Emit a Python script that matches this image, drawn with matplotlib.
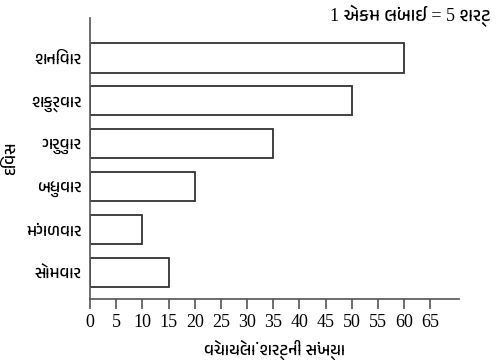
import matplotlib
matplotlib.use("Agg")
from matplotlib import pyplot as plt
from matplotlib import font_manager

days = ["સોમવાર", "મંગળવાર", "બુધવાર", "ગુરુવાર", "શુક્રવાર", "શનિવાર"]
shirts = [15, 10, 20, 35, 50, 60]
ticks = list(range(0, 70, 5))

names = sorted({f.name for f in font_manager.fontManager.ttflist})
guj = [n for n in names if "Gujarati" in n or "Lohit" in n or "Shruti" in n]
# serif for latin and digits, gujarati font for the rest
plt.rcParams['font.family'] = ["Liberation Serif"] + guj + ["DejaVu Serif"]

fig = plt.figure(figsize=(5.03, 3.6), dpi=100)
ax = fig.add_axes([0.179, 0.169, 0.7335, 0.781])
ax.barh(range(len(days)), shirts, height=0.68, color="white",
        edgecolor="#333333", linewidth=1.3)
ax.set_xlim(0, 70.5)
ax.set_ylim(-0.62, 5.93)
ax.set_xticks(ticks)
ax.set_yticks(range(len(days)))
ax.set_yticklabels(days)
ax.tick_params(axis="x", labelsize=13, length=7, width=1.2, color="#555555", pad=4)
ax.tick_params(axis="y", labelsize=12, length=0, pad=6)
for s in ["top", "right"]:
    ax.spines[s].set_visible(False)
for s in ["left", "bottom"]:
    ax.spines[s].set_color("#555555")
    ax.spines[s].set_linewidth(1.2)
ax.set_xlabel("વેચાયેલાં શર્ટની સંખ્યા", fontsize=12, labelpad=6)
ax.set_ylabel("દિવસ", fontsize=12, labelpad=5)
fig.text(0.975, 0.955, "1 એકમ લંબાઈ = 5 શર્ટ", ha="right", va="center", fontsize=13)
fig.savefig("out.png", dpi=100)
